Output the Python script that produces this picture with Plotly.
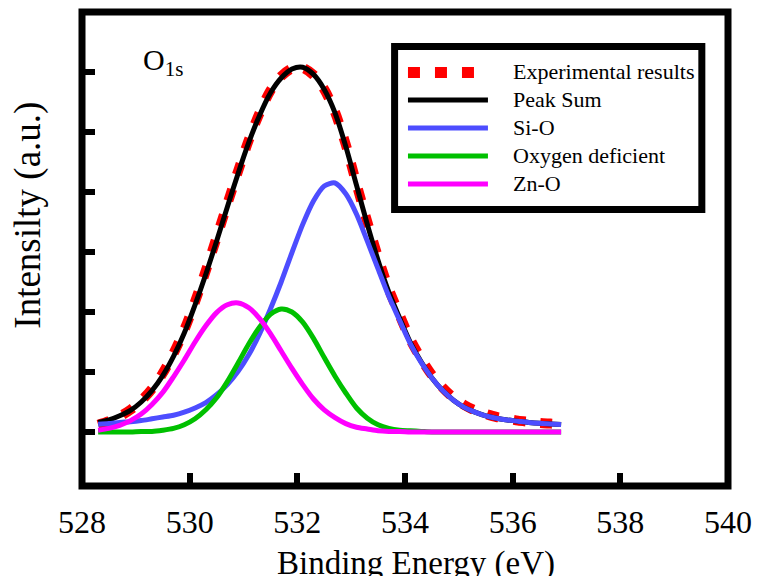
import plotly.graph_objects as go

# Binding energy grid (eV)
energy = [528.3, 528.5, 528.7, 528.9, 529.1, 529.3, 529.5, 529.7, 529.9, 530.1,
          530.3, 530.5, 530.7, 530.9, 531.1, 531.3, 531.5, 531.7, 531.9, 532.1,
          532.3, 532.5, 532.7, 532.9, 533.1, 533.3, 533.5, 533.7, 533.9, 534.1,
          534.3, 534.5, 534.7, 534.9, 535.1, 535.3, 535.5, 535.7, 535.9, 536.1,
          536.3, 536.5, 536.7, 536.9]

experimental = [0.12, 0.18, 0.26, 0.37, 0.52, 0.72, 0.98, 1.31, 1.70, 2.17,
                2.69, 3.24, 3.80, 4.35, 4.87, 5.32, 5.69, 5.93, 6.06, 6.07,
                5.95, 5.71, 5.33, 4.79, 4.13, 3.50, 2.91, 2.38, 1.95, 1.54,
                1.22, 0.95, 0.74, 0.57, 0.45, 0.36, 0.30, 0.25, 0.22, 0.19,
                0.17, 0.15, 0.14, 0.13]

peak_sum = [0.16, 0.20, 0.27, 0.36, 0.50, 0.69, 0.94, 1.26, 1.65, 2.12,
            2.63, 3.18, 3.75, 4.31, 4.83, 5.28, 5.65, 5.90, 6.05, 6.08,
            5.96, 5.71, 5.32, 4.76, 4.11, 3.46, 2.86, 2.33, 1.90, 1.49,
            1.17, 0.90, 0.69, 0.53, 0.41, 0.33, 0.27, 0.23, 0.20, 0.18,
            0.16, 0.145, 0.135, 0.125]

si_o = [0.13, 0.14, 0.16, 0.17, 0.19, 0.22, 0.25, 0.28, 0.33, 0.40,
        0.49, 0.62, 0.79, 1.01, 1.29, 1.64, 2.05, 2.50, 2.99, 3.46,
        3.85, 4.10, 4.15, 3.97, 3.63, 3.18, 2.72, 2.26, 1.86, 1.47,
        1.16, 0.90, 0.69, 0.53, 0.41, 0.33, 0.27, 0.23, 0.20, 0.18,
        0.16, 0.145, 0.135, 0.125]

oxygen_deficient = [0.00, 0.00, 0.00, 0.00, 0.01, 0.01, 0.03, 0.06, 0.12, 0.22,
                    0.37, 0.57, 0.84, 1.15, 1.47, 1.75, 1.96, 2.05, 2.00, 1.83,
                    1.56, 1.24, 0.93, 0.65, 0.40, 0.23, 0.12, 0.06, 0.03, 0.02,
                    0.01, 0.00, 0.00, 0.00, 0.00, 0.00, 0.00, 0.00, 0.00, 0.00,
                    0.00, 0.00, 0.00, 0.00]

zn_o = [0.03, 0.06, 0.11, 0.19, 0.30, 0.46, 0.66, 0.92, 1.20, 1.50,
        1.77, 1.99, 2.12, 2.15, 2.07, 1.89, 1.64, 1.35, 1.06, 0.79,
        0.55, 0.37, 0.24, 0.14, 0.08, 0.05, 0.02, 0.01, 0.01, 0.00,
        0.00, 0.00, 0.00, 0.00, 0.00, 0.00, 0.00, 0.00, 0.00, 0.00,
        0.00, 0.00, 0.00, 0.00]

x_ticks = [528, 530, 532, 534, 536, 538, 540]
y_ticks = [0, 1, 2, 3, 4, 5, 6]

series = [
    ("Experimental results", experimental, "#FF0000", 10, "12px,15px"),
    ("Peak Sum", peak_sum, "#000000", 5, "solid"),
    ("Si-O", si_o, "#4D4DFF", 5, "solid"),
    ("Oxygen deficient", oxygen_deficient, "#00C000", 5, "solid"),
    ("Zn-O", zn_o, "#FF00FF", 5, "solid"),
]

FONT = "Liberation Serif"

fig = go.Figure()
for name, values, color, width, dash in series:
    fig.add_trace(go.Scatter(
        x=energy, y=values, name=name, mode="lines",
        line=dict(color=color, width=width, dash=dash, shape="spline", smoothing=0.8),
        showlegend=False,
    ))

# Plot frame
shapes = [dict(type="rect", xref="paper", yref="paper", x0=0, x1=1, y0=0, y1=1,
               line=dict(color="black", width=7), layer="above")]

# Legend box with sample lines and labels
shapes.append(dict(type="rect", xref="paper", yref="paper",
                   x0=0.4839, x1=0.9595, y0=0.5833, y1=0.9272,
                   line=dict(color="black", width=7), fillcolor="white", layer="above"))
legend_rows = [0.8724, 0.8143, 0.7553, 0.6962, 0.6371]
annotations = []
for (name, _, color, width, dash), ry in zip(series, legend_rows):
    shapes.append(dict(type="line", xref="paper", yref="paper",
                       x0=0.5046, x1=0.6284, y0=ry, y1=ry,
                       line=dict(color=color, width=11 if dash != "solid" else 5, dash=dash),
                       layer="above"))
    annotations.append(dict(xref="paper", yref="paper", x=0.6636, y=ry + 0.002,
                            xanchor="left", yanchor="middle", showarrow=False,
                            text=name, font=dict(family=FONT, size=22, color="black")))

annotations += [
    dict(xref="paper", yref="paper", x=0.0917, y=0.8945, xanchor="left", yanchor="middle",
         showarrow=False, text="O<sub>1s</sub>", font=dict(family=FONT, size=30, color="black")),
    dict(xref="paper", yref="paper", x=0.5176, y=-0.121, xanchor="center", yanchor="top",
         showarrow=False, text="Binding Energy (eV)", font=dict(family=FONT, size=33, color="black")),
    dict(xref="paper", yref="paper", x=-0.0841, y=0.5717, xanchor="center", yanchor="middle",
         showarrow=False, textangle=-90, text="Intensilty (a.u.)",
         font=dict(family=FONT, size=37, color="black")),
]

fig.update_layout(
    width=764, height=576, autosize=False,
    margin=dict(l=82, r=28, t=12, b=90),
    paper_bgcolor="white", plot_bgcolor="white",
    font=dict(family=FONT, color="black"),
    shapes=shapes, annotations=annotations,
    xaxis=dict(range=[528, 540], tickvals=x_ticks, ticktext=[str(t) for t in x_ticks],
               ticks="inside", ticklen=13, tickwidth=6, tickcolor="black",
               ticklabelstandoff=14,
               showgrid=False, zeroline=False, showline=False,
               tickfont=dict(family=FONT, size=32, color="black")),
    yaxis=dict(range=[-0.9, 7.0], tickvals=y_ticks, showticklabels=False,
               ticks="inside", ticklen=13, tickwidth=6, tickcolor="black",
               showgrid=False, zeroline=False, showline=False),
)

fig.write_html("out.html", config={"displayModeBar": False})
